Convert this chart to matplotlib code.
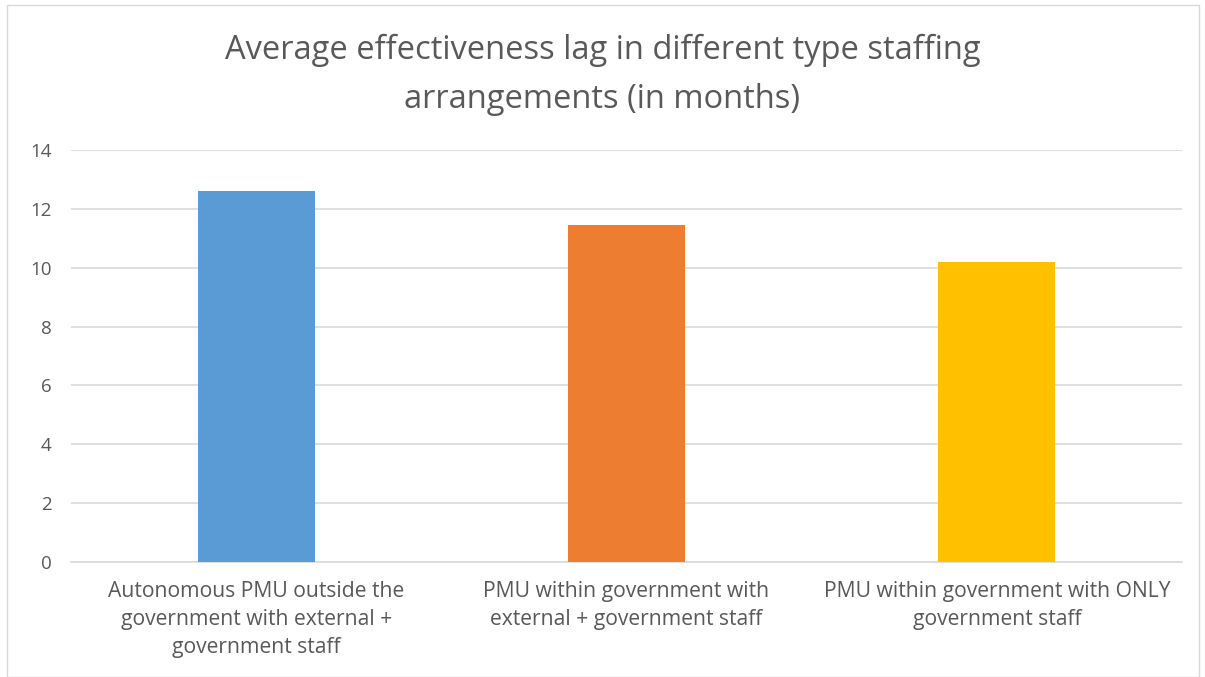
import matplotlib
matplotlib.use("Agg")
import matplotlib.pyplot as plt
from matplotlib.patches import Rectangle

categories = ["Autonomous PMU outside the\ngovernment with external +\ngovernment staff",
              "PMU within government with\nexternal + government staff",
              "PMU within government with ONLY\ngovernment staff"]
values = [12.6, 11.45, 10.2]
colors = ["#5B9BD5", "#ED7D31", "#FFC000"]
yticks = [0, 2, 4, 6, 8, 10, 12, 14]

plt.rcParams['font.family'] = ['Open Sans', 'DejaVu Sans']
W, H = 1205, 677
fig = plt.figure(figsize=(W/100, H/100), dpi=100)
fig.patches.append(Rectangle((7/W, 0), (1199-7)/W, (677-5)/H, transform=fig.transFigure,
                             fill=False, edgecolor="#D9D9D9", linewidth=1))
ax = fig.add_axes([71/W, (H-562)/H, (1182-71)/W, (562-150)/H])
x = range(len(categories))
ax.bar(x, values, width=0.316, color=colors, zorder=3)
ax.set_xlim(-0.5, 2.5)
ax.set_ylim(0, 14)
ax.set_yticks(yticks)
ax.set_yticklabels([str(t) for t in yticks], fontsize=13.5, color="#595959")
ax.set_xticks(list(x))
ax.set_xticklabels(categories, fontsize=15.2, color="#595959", linespacing=1.43)
ax.grid(axis="y", color="#D9D9D9", linewidth=1.2, zorder=0)
for s in ["top", "right", "left"]:
    ax.spines[s].set_visible(False)
ax.spines["bottom"].set_color("#D9D9D9")
ax.spines["bottom"].set_linewidth(1.2)
ax.tick_params(axis="y", length=0, pad=14)
ax.tick_params(axis="x", length=0, pad=14)
fig.text(0.5, 1 - 75/H, "Average effectiveness lag in different type staffing\narrangements (in months)",
         ha="center", va="center", fontsize=23.5, color="#595959", linespacing=1.63)
fig.savefig("out.png", dpi=100)
